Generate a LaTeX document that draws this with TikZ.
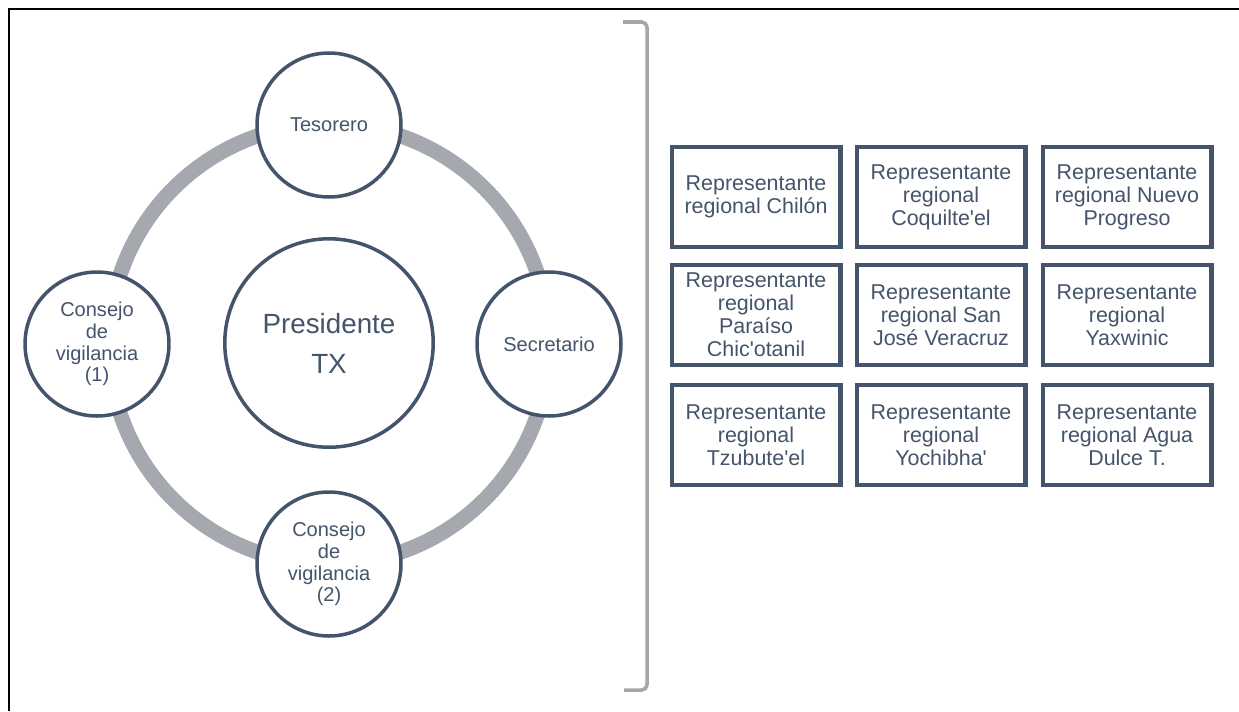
\documentclass[tikz,border=0pt]{standalone}
\usepackage{fontspec}
\setmainfont{Liberation Sans}
\definecolor{slate}{HTML}{44546A}
\definecolor{ringgray}{HTML}{A5A8AF}
\definecolor{brackgray}{HTML}{A6A6A6}
\tikzset{
	rolecircle/.style={circle, draw=slate, line width=2pt, fill=white, text=slate, minimum size=2.88cm, inner sep=0pt, align=center, font=\fontsize{11.4}{12.4}\selectfont},
	regionbox/.style={rectangle, draw=slate, line width=2.3pt, fill=white, text=slate, minimum width=3.38cm, minimum height=2.0cm, inner sep=0pt, align=center, font=\fontsize{12.2}{13.1}\selectfont}
}

\begin{document}
\begin{tikzpicture}[x=0.02cm, y=-0.02cm]
			%%%%% START %%%%%
			
			\useasboundingbox (0,0) rectangle (1239,711);
			\draw[line width=1.4pt] (9,711) -- (9,9) -- (1239,9);
			
			\draw[ringgray, line width=0.3cm] (329,344) circle (220);
			
			\node[rolecircle] (tesorero) at (329,125) {Tesorero};
			\node[rolecircle] (secretario) at (549,344) {Secretario};
			\node[rolecircle] (consejo1) at (97,344) {Consejo\\de\\vigilancia\\(1)};
			\node[rolecircle] (consejo2) at (329,564) {Consejo\\de\\vigilancia\\(2)};
			
			\node[rolecircle, minimum size=4.17cm, font=\fontsize{15.8}{22.8}\selectfont] (presidente) at (329,343) {Presidente\\TX};
			
			\draw[brackgray, line width=2pt, rounded corners=3pt] (623,22) -- (647,22) -- (647,690) -- (624,690);
			
			\node[regionbox] (chilon) at (756,197) {Representante\\regional Chil\'on};
			\node[regionbox] (coquilteel) at (941,197) {Representante\\regional\\Coquilte\textquotesingle el};
			\node[regionbox] (nuevoprogreso) at (1127,197) {Representante\\regional Nuevo\\Progreso};
			
			\node[regionbox] (paraiso) at (756,315) {Representante\\regional\\Para\'iso\\Chic\textquotesingle otanil};
			\node[regionbox] (sanjose) at (941,315) {Representante\\regional San\\Jos\'e Veracruz};
			\node[regionbox] (yaxwinic) at (1127,315) {Representante\\regional\\Yaxwinic};
			
			\node[regionbox] (tzubuteel) at (756,435) {Representante\\regional\\Tzubute\textquotesingle el};
			\node[regionbox] (yochibha) at (941,435) {Representante\\regional\\Yochibha\textquotesingle};
			\node[regionbox] (aguadulce) at (1127,435) {Representante\\regional Agua\\Dulce T.};
			
			%%%%% END %%%%%
\end{tikzpicture}
\end{document}
